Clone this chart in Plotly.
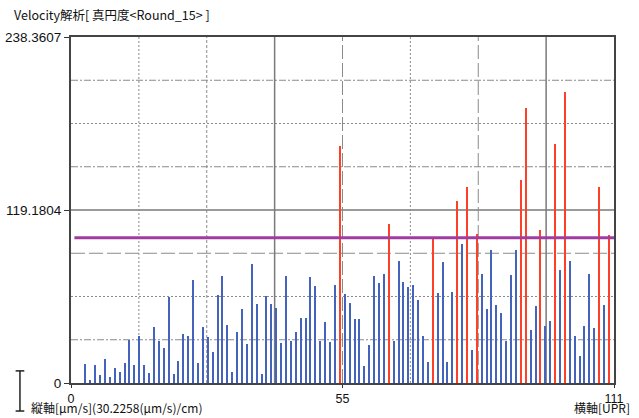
import plotly.graph_objects as go

TITLE = "Velocity解析[ 真円度<Round_15> ]"
Y_LABEL = "縦軸[μm/s](30.2258(μm/s)/cm)"
X_LABEL = "横軸[UPR]"
YMAX = 238.3607
XMAX = 111
THRESHOLD = 100.0
Y_TICK_LABELS = ["0", "119.1804", "238.3607"]
X_TICK_LABELS = ["0", "55", "111"]

positions = list(range(3, 111))
values = [
    13.3, 2.3, 12.6, 5.7, 16.5, 4.1, 10.3, 7.6, 13.8, 29.8,
    12.6, 32.6, 12.6, 6.9, 38.3, 28.7, 23.8, 59.2, 6.4, 14.9,
    34.0, 32.1, 71.2, 13.8, 38.3, 31.5, 21.1, 60.8, 73.7, 39.7,
    7.6, 34.9, 51.2, 26.9, 81.7, 54.2, 6.4, 60.2, 54.6, 51.9,
    27.6, 73.9, 28.9, 34.9, 45.0, 44.5, 73.0, 67.0, 28.9, 42.2,
    28.0, 67.5, 163.5, 61.5, 55.1, 44.3, 44.3, 11.9, 25.9, 73.5,
    68.9, 75.1, 109.7, 28.7, 84.0, 69.6, 66.1, 67.7, 57.4, 32.6,
    14.7, 100.3, 62.2, 83.1, 14.5, 62.9, 125.4, 96.0, 135.0, 22.5,
    102.4, 75.3, 51.2, 91.4, 54.0, 48.4, 28.7, 74.4, 91.4, 140.1,
    189.4, 36.3, 53.3, 105.2, 39.5, 42.5, 164.4, 77.6, 200.4, 83.8,
    32.6, 18.6, 39.5, 75.3, 38.1, 135.0, 54.0, 101.7,
]

BLUE = "#4363bd"
RED = "#ff4028"
PURPLE = "#a03ca0"
FONT = "Noto Sans CJK JP"
NUMFONT = "Liberation Sans"

colors = [RED if v >= THRESHOLD else BLUE for v in values]

fig = go.Figure()
fig.add_trace(go.Bar(x=positions, y=values, width=0.3,
                     marker=dict(color=colors, line=dict(width=0)),
                     hoverinfo="x+y"))

shapes = []
h_styles = {1: "7px,2px,2px,2px", 2: "2px,2px", 3: "14px,4px", 4: "solid",
            5: "7px,2px,2px,2px", 6: "2px,2px", 7: "7px,2px,2px,2px"}
v_styles = {1: "2px,2px", 2: "3px,2px", 3: "solid", 4: "14px,4px",
            5: "2px,2px", 6: "14px,4px", 7: "solid"}
for k, d in h_styles.items():
    yv = YMAX * k / 8
    shapes.append(dict(type="line", xref="paper", yref="y", x0=0, x1=1, y0=yv, y1=yv,
                       layer="below",
                       line=dict(color="#7a7a7a" if d == "solid" else "#8a8a8a",
                                 width=1.5 if d == "solid" else 1, dash=d)))
for k, d in v_styles.items():
    xv = XMAX * k / 8
    shapes.append(dict(type="line", xref="x", yref="paper", x0=xv, x1=xv, y0=0, y1=1,
                       layer="below",
                       line=dict(color="#7a7a7a" if d == "solid" else "#8a8a8a",
                                 width=1.5 if d == "solid" else 1, dash=d)))
shapes.append(dict(type="line", xref="x", yref="y", x0=0.7, x1=XMAX, y0=THRESHOLD, y1=THRESHOLD,
                   layer="above", line=dict(color=PURPLE, width=3)))
sx = -0.094
st, sb = 0.035, -0.081
shapes.append(dict(type="line", xref="paper", yref="paper", x0=sx, x1=sx, y0=sb, y1=st,
                   line=dict(color="#222", width=1.5)))
for yy in (st, sb):
    shapes.append(dict(type="line", xref="paper", yref="paper", x0=sx - 0.008, x1=sx + 0.008,
                       y0=yy, y1=yy, line=dict(color="#222", width=1.5)))

annotations = [
    dict(text=TITLE, xref="paper", yref="paper", x=-0.108, y=1.065, xanchor="left", yanchor="middle",
         showarrow=False, font=dict(family=FONT, size=12.5, color="#111")),
    dict(text=Y_LABEL, xref="paper", yref="paper", x=-0.077, y=-0.1, xanchor="left", yanchor="bottom",
         showarrow=False, font=dict(family=FONT, size=12, color="#111")),
    dict(text=X_LABEL, xref="paper", yref="paper", x=1.033, y=-0.1, xanchor="right", yanchor="bottom",
         showarrow=False, font=dict(family=FONT, size=12, color="#111")),
]

fig.update_layout(
    width=639, height=418,
    margin=dict(l=71, r=25, t=37, b=35),
    paper_bgcolor="white", plot_bgcolor="white",
    showlegend=False, bargap=0,
    shapes=shapes, annotations=annotations,
    font=dict(family=FONT, size=12, color="#111"),
    xaxis=dict(range=[0, XMAX], showgrid=False, zeroline=False, automargin=False,
               tickvals=[XMAX * k / 2 for k in range(3)], ticktext=X_TICK_LABELS,
               ticks="outside", ticklen=3, tickcolor="#333",
               showline=True, linecolor="#444", linewidth=2, mirror=True,
               tickfont=dict(family=NUMFONT, size=12.5, color="#111")),
    yaxis=dict(range=[0, YMAX], showgrid=False, zeroline=False, automargin=False,
               tickvals=[YMAX * k / 2 for k in range(3)], ticktext=Y_TICK_LABELS,
               ticks="outside", ticklen=5, tickcolor="#333",
               showline=True, linecolor="#444", linewidth=2, mirror=True,
               tickfont=dict(family=NUMFONT, size=13.5, color="#111")),
)

fig.write_html("out.html", config={"displayModeBar": False})
with open("out.html", encoding="utf-8") as f:
    html = f.read()
html = html.replace("<body>", '<body style="margin:0;padding:0;overflow:hidden">', 1)
with open("out.html", "w", encoding="utf-8") as f:
    f.write(html)
